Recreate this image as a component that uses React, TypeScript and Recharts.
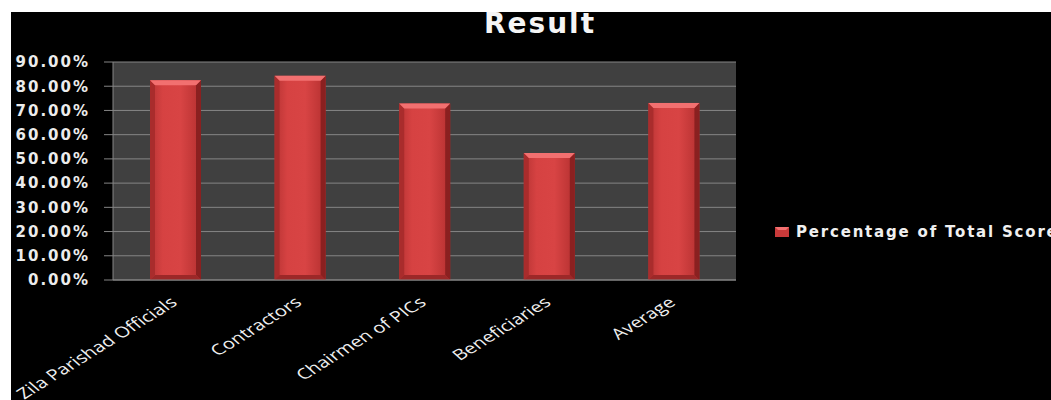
import React from 'react';
import { BarChart, Bar, XAxis, YAxis, CartesianGrid, Legend } from 'recharts';

const categories = ['Zila Parishad Officials', 'Contractors', 'Chairmen of PICs', 'Beneficiaries', 'Average'];
const scores = [82.5, 84.3, 72.9, 52.4, 73.1];
const yTicks = [0, 10, 20, 30, 40, 50, 60, 70, 80, 90];
const edgeTicks = [0, 1, 2, 3, 4, 5];
const seriesName = 'Percentage of Total Score';

const data = categories.map((name, i) => ({ name, score: scores[i] }));

const GRID = '#858585';

const BevelBar = (props: any) => {
  const { x, y, width, height } = props;
  if (!height || height <= 0) return null;
  const b = Math.min(5, width / 6);
  return (
    <g>
      <rect x={x} y={y} width={width} height={height} fill="url(#barBody)" />
      <polygon points={`${x},${y} ${x + b},${y + b} ${x + b},${y + height - b} ${x},${y + height}`} fill="#a92c2c" />
      <polygon points={`${x + width},${y} ${x + width - b},${y + b} ${x + width - b},${y + height - b} ${x + width},${y + height}`} fill="#8a2020" />
      <polygon points={`${x},${y} ${x + width},${y} ${x + width - b},${y + b} ${x + b},${y + b}`} fill="#f27070" />
      <polygon points={`${x},${y + height} ${x + width},${y + height} ${x + width - b},${y + height - b} ${x + b},${y + height - b}`} fill="#9c2828" />
    </g>
  );
};

// labels in the original are rotated and then stretched sideways
const CategoryTick = (props: any) => {
  const { x, y, payload } = props;
  const tx = x + 3;
  const ty = y + 15;
  return (
    <text
      x={0}
      y={0}
      textAnchor="end"
      fill="#f0f0f0"
      fontSize={15}
      fontFamily="'Open Sans', sans-serif"
      transform={`translate(${tx}, ${ty}) scale(1.35, 1) rotate(-40)`}
    >
      {payload.value}
    </text>
  );
};

const renderLegend = () => (
  <div style={{ display: 'flex', alignItems: 'center', whiteSpace: 'nowrap' }}>
    <svg width={14} height={10} style={{ marginRight: 7 }}>
      <rect x={0} y={0} width={14} height={10} fill="#c93a3a" />
      <polygon points="0,0 14,0 11,3 3,3" fill="#f27070" />
    </svg>
    <span
      style={{
        color: '#f0f0f0',
        fontFamily: "'DejaVu Sans', sans-serif",
        fontWeight: 'bold',
        fontSize: 15,
        letterSpacing: 1.8,
      }}
    >
      {seriesName}
    </span>
  </div>
);

export default function App() {
  return (
    <div
      style={{
        position: 'absolute',
        left: 11,
        top: 12,
        width: 1040,
        height: 388,
        background: '#000',
      }}
    >
      <div style={{ position: 'absolute', left: 0, top: 0, width: 1040, height: 388, overflow: 'hidden' }}>
        <BarChart width={1040} height={388} data={data} margin={{ top: 50, right: 315, bottom: 0, left: 0 }}>
          <defs>
            <linearGradient id="barBody" x1="0" y1="0" x2="1" y2="0">
              <stop offset="0%" stopColor="#b83434" />
              <stop offset="25%" stopColor="#d64242" />
              <stop offset="60%" stopColor="#d84444" />
              <stop offset="100%" stopColor="#b53030" />
            </linearGradient>
          </defs>
          <CartesianGrid vertical={false} stroke={GRID} fill="#404040" fillOpacity={1} />
          <XAxis
            xAxisId="b"
            dataKey="name"
            height={119}
            interval={0}
            axisLine={false}
            tickLine={false}
            tick={<CategoryTick />}
          />
          <XAxis
            xAxisId="a"
            type="number"
            domain={[0, 5]}
            ticks={edgeTicks}
            allowDataOverflow
            height={1}
            tick={false}
            tickSize={6}
            axisLine={{ stroke: GRID }}
            tickLine={{ stroke: GRID }}
          />
          <YAxis
            width={102}
            domain={[0, 90]}
            ticks={yTicks}
            interval={0}
            tickSize={9}
            tickMargin={14}
            axisLine={{ stroke: GRID }}
            tickLine={{ stroke: GRID }}
            tickFormatter={(v: number) => `${v.toFixed(2)}%`}
            tick={{
              fill: '#ececec',
              fontSize: 15,
              fontWeight: 'bold',
              fontFamily: "'DejaVu Sans', sans-serif",
              letterSpacing: 2,
            }}
          />
          <Legend
            layout="horizontal"
            align="center"
            verticalAlign="middle"
            content={renderLegend}
            wrapperStyle={{ left: 764, top: 211, width: 'auto' }}
          />
          <Bar
            xAxisId="b"
            dataKey="score"
            name={seriesName}
            barSize={51}
            shape={<BevelBar />}
            isAnimationActive={false}
          />
        </BarChart>
      </div>
      <div
        style={{
          position: 'absolute',
          left: 529,
          top: -5,
          transform: 'translateX(-50%)',
          color: '#f5f5f5',
          fontFamily: "'DejaVu Sans', sans-serif",
          fontWeight: 'bold',
          fontSize: 28,
          lineHeight: '33px',
          letterSpacing: 2,
          whiteSpace: 'nowrap',
        }}
      >
        Result
      </div>
    </div>
  );
}
